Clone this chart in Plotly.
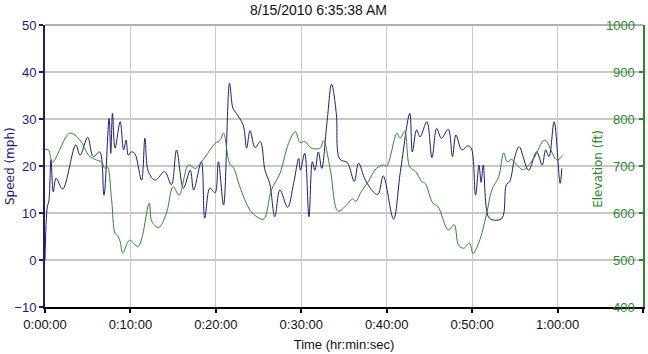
import plotly.graph_objects as go

# ---- data (minutes since start) ----
speed_t = [0, 0.27, 0.45, 0.7, 0.97, 1.3, 2.07, 3.6, 4.1, 5.0, 5.65, 6.4, 6.9, 7.5, 7.7, 7.9, 8.2, 8.8,
           9.2, 9.5, 9.75, 10.1, 10.5, 11.3, 11.7, 12.1, 12.9, 14.0, 14.8, 15.4, 16.2, 17.0, 17.4, 18.3,
           18.7, 19.3, 19.9, 20.3, 20.9, 21.6, 22.0, 22.4, 23.2, 23.6, 24.0, 24.6, 25.2, 25.75, 26.3,
           26.9, 27.5, 28.4, 29.1, 29.7, 29.9, 30.4, 30.9, 31.3, 31.6, 32.0, 32.4, 33.0, 33.55, 34.1,
           34.5, 35.4, 36.2, 36.7, 37.5, 38.6, 39.0, 39.6, 40.8, 41.6, 42.7, 43.0, 43.5, 43.9, 44.7,
           45.3, 45.85, 46.4, 47.2, 47.7, 48.1, 48.8, 49.5, 49.9, 50.4, 50.8, 51.05, 51.3, 51.9, 52.5,
           53.5, 54.0, 54.4, 55.0, 55.5, 56.6, 57.55, 58.2, 58.6, 59.0, 59.6, 60.3, 60.5]
speed_mph = [0, 11.3, 12.5, 21.3, 14.5, 17.4, 15.1, 24.5, 22.3, 26.1, 22.0, 23.0, 13.8, 30.1, 22.7, 31.2, 23.8, 29.4,
             23.4, 25.5, 22.3, 23.0, 22.7, 17.0, 25.9, 18.8, 17.0, 18.8, 16.0, 23.4, 15.3, 19.1, 14.9, 20.9,
             8.9, 15.3, 14.3, 20.9, 11.7, 37.6, 32.3, 31.2, 28.7, 23.8, 27.5, 23.9, 25.2, 19.1, 16.3,
             9.2, 14.9, 11.2, 16.3, 21.6, 19.1, 22.7, 9.2, 20.9, 19.1, 23.0, 19.5, 29.1, 37.4, 31.2,
             21.5, 20.7, 16.7, 20.6, 17.0, 14.2, 14.0, 17.9, 8.7, 18.8, 31.2, 23.0, 27.7, 26.2, 29.4,
             21.8, 28.0, 25.9, 27.8, 22.0, 26.6, 23.4, 24.3, 23.8, 13.8, 20.2, 16.5, 20.2, 9.2, 8.5,
             8.9, 16.0, 16.7, 22.0, 24.1, 19.1, 23.0, 20.2, 23.4, 22.0, 29.4, 16.3, 19.5]

elev_t = [0, 0.4, 0.9, 2.9, 4.1, 5.1, 5.85, 6.6, 7.0, 7.3, 7.8, 8.2, 8.5, 8.8, 9.1, 9.9, 10.9, 12.2, 12.5,
          13.3, 14.2, 15.0, 15.7, 16.8, 17.6, 18.5, 19.9, 20.5, 20.9, 21.6, 22.1, 22.8, 24.0, 24.8, 25.6,
          26.5, 27.5, 28.5, 29.3, 29.85, 30.4, 31.2, 32.2, 32.6, 33.4, 34.3, 35.3, 36.0, 36.4, 37.0,
          37.85, 38.8, 39.6, 40.0, 41.2, 41.55, 42.1, 42.7, 43.4, 44.1, 44.5, 45.4, 46.0, 47.2, 47.9,
          48.4, 49.0, 49.7, 50.1, 50.9, 51.7, 52.3, 53.1, 53.7, 54.1, 54.6, 55.4, 56.0, 57.2, 58.5,
          59.9, 60.6]
elev_ft = [735, 734, 709, 770, 755, 723, 714, 709, 695, 698, 628, 557, 552, 539, 515, 542, 529, 621, 582,
           569, 599, 656, 638, 702, 695, 713, 748, 755, 770, 706, 695, 656, 606, 592, 587,
           649, 684, 748, 773, 750, 752, 738, 738, 754, 692, 604, 617, 630, 625, 645,
           667, 695, 702, 700, 770, 759, 773, 698, 688, 667, 663, 621, 614, 564, 575,
           532, 525, 536, 514, 543, 599, 649, 677, 728, 709, 714, 699, 692, 716, 755,
           713, 722]

x_ticks = [0, 10, 20, 30, 40, 50, 60, 70]
x_tick_labels = ["0:00:00", "0:10:00", "0:20:00", "0:30:00", "0:40:00", "0:50:00", "1:00:00", "1:10:00"]
elev_ticks = [400, 500, 600, 700, 800, 900, 1000]

title_text = "8/15/2010 6:35:38 AM"

NAVY = "#1c1c80"
GREEN = "#2a8a2a"
GRID = "#c8c8c8"
NARROW = "Liberation Sans Narrow, Liberation Sans, Arial, sans-serif"
VERD = "DejaVu Sans, Verdana, sans-serif"

fig = go.Figure()
fig.add_trace(go.Scatter(x=speed_t, y=speed_mph, mode="lines",
                         line=dict(color=NAVY, width=1, shape="spline", smoothing=1.0),
                         yaxis="y", showlegend=False, hoverinfo="skip"))
fig.add_trace(go.Scatter(x=elev_t, y=elev_ft, mode="lines",
                         line=dict(color=GREEN, width=1, shape="spline", smoothing=1.0),
                         yaxis="y2", showlegend=False, hoverinfo="skip"))

annotations = [
    dict(text=title_text, xref="paper", yref="paper", x=0.458, y=1, yshift=15,
         xanchor="center", yanchor="middle", showarrow=False,
         font=dict(family=NARROW, size=14, color="#111111")),
    dict(text="Speed (mph)", xref="paper", yref="paper", x=0, xshift=-35, y=0.5,
         textangle=-90, xanchor="center", yanchor="middle", showarrow=False,
         font=dict(family=VERD, size=12, color=NAVY)),
    dict(text="Elevation (ft)", xref="paper", yref="paper", x=1, xshift=-45, y=0.49,
         textangle=-90, xanchor="center", yanchor="middle", showarrow=False,
         font=dict(family=VERD, size=12, color=GREEN)),
]
# right-axis tick labels drawn inside the plot, left of the axis line
for v in elev_ticks:
    annotations.append(dict(text=str(v), xref="paper", yref="y2", x=1, y=v, xshift=-6,
                            xanchor="right", yanchor="middle", showarrow=False,
                            font=dict(family=NARROW, size=13, color=GREEN)))

fig.update_layout(
    width=648, height=354,
    margin=dict(l=45, r=5, t=25, b=47),
    paper_bgcolor="white", plot_bgcolor="white",
    xaxis=dict(range=[0, 70], tickvals=x_ticks, ticktext=x_tick_labels,
               showgrid=True, gridcolor=GRID, gridwidth=1,
               showline=True, linecolor="black", linewidth=2,
               ticks="outside", ticklen=4, tickwidth=2, tickcolor="black",
               tickfont=dict(family=NARROW, size=13, color="#111111"),
               zeroline=False,
               title=dict(text="Time (hr:min:sec)", font=dict(family=NARROW, size=13, color="#111111"),
                          standoff=9)),
    yaxis=dict(range=[-10, 50], dtick=10, tick0=0,
               showgrid=True, gridcolor=GRID, gridwidth=1.5, zeroline=False,
               showline=True, linecolor=NAVY, linewidth=2,
               ticks="outside", ticklen=4, tickwidth=2, tickcolor=NAVY,
               tickfont=dict(family=NARROW, size=13, color=NAVY)),
    yaxis2=dict(range=[400, 1000], tickvals=elev_ticks, overlaying="y", side="right",
                showgrid=False, zeroline=False, showticklabels=False,
                showline=True, linecolor=GREEN, linewidth=2,
                ticks="inside", ticklen=4, tickwidth=2, tickcolor=GREEN),
    shapes=[dict(type="line", xref="paper", yref="paper", x0=0, x1=1, y0=1, y1=1,
                 line=dict(color="#b0b0b0", width=2))],
    annotations=annotations,
)

fig.write_html("out.html")
